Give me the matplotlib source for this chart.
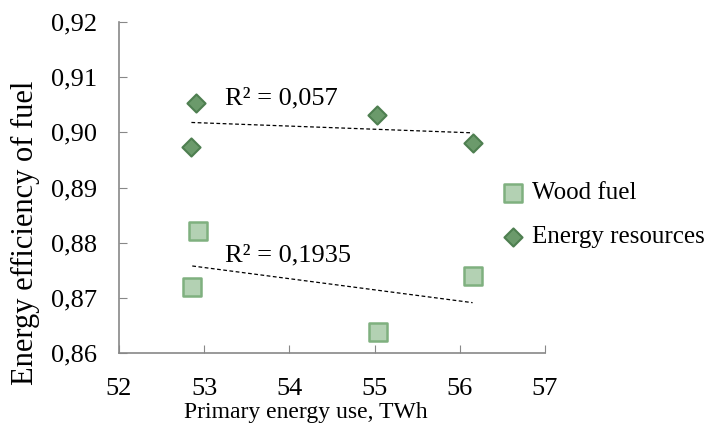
import numpy as np
import matplotlib
matplotlib.use("Agg")
import matplotlib.pyplot as plt

wood_x = [52.86, 52.93, 55.04, 56.15]
wood_y = [0.8720, 0.8821, 0.8638, 0.8740]
energy_x = [52.85, 52.90, 55.03, 56.15]
energy_y = [0.8974, 0.9053, 0.9032, 0.8981]
series_names = ["Wood fuel", "Energy resources"]
r2_labels = ["R² = 0,1935", "R² = 0,057"]
x_ticks = [52, 53, 54, 55, 56, 57]
y_ticks = [0.86, 0.87, 0.88, 0.89, 0.90, 0.91, 0.92]

plt.rcParams["font.family"] = ["Liberation Serif", "DejaVu Serif"]

fig = plt.figure(figsize=(7.13, 4.24), dpi=100)
ax = fig.add_axes([119 / 713, 1 - 353 / 424, 426 / 713, 331 / 424])

ax.scatter(wood_x, wood_y, marker="s", s=150, facecolor="#b3d1b3",
           edgecolor="#7fb07f", linewidth=1.8, label=series_names[0], zorder=3)
ax.scatter(energy_x, energy_y, marker="D", s=85, facecolor="#6b9a6b",
           edgecolor="#4e7f50", linewidth=1.5, label=series_names[1], zorder=3)

# linear trendlines over the data range
for xs, ys in [(wood_x, wood_y), (energy_x, energy_y)]:
    k, c = np.polyfit(xs, ys, 1)
    xx = np.array([min(xs), max(xs)])
    ax.plot(xx, k * xx + c, color="black", lw=0.9, ls=(0, (3, 2)), zorder=2)

ax.text(53.24, 0.8777, r2_labels[0], fontsize=19, ha="left", va="center")
ax.text(53.24, 0.9062, r2_labels[1], fontsize=19, ha="left", va="center")

ax.set_xlim(52, 57)
ax.set_ylim(0.86, 0.92)
ax.set_xticks(x_ticks)
ax.set_yticks(y_ticks)
ax.set_yticklabels([f"{v:.2f}".replace(".", ",") for v in y_ticks])
ax.tick_params(direction="in", length=6, color="#888888", labelsize=19)
ax.tick_params(axis="y", pad=16)
ax.tick_params(axis="x", pad=18)
for side in ["top", "right"]:
    ax.spines[side].set_visible(False)
for side in ["left", "bottom"]:
    ax.spines[side].set_color("#888888")
    ax.spines[side].set_linewidth(1.2)

ax.set_xlabel("Primary energy use, TWh", fontsize=17)
ax.xaxis.set_label_coords(0.439, -0.148)
ax.set_ylabel("Energy efficiency of fuel", fontsize=22)
ax.yaxis.set_label_coords(-0.186, 0.362)

ax.legend(loc="center left", bbox_to_anchor=(488 / 713, 1 - 215 / 424),
          bbox_transform=fig.transFigure, frameon=False,
          fontsize=18, handletextpad=-0.25, labelspacing=0.85,
          borderaxespad=0, borderpad=0)

fig.savefig("out.png", dpi=100)
